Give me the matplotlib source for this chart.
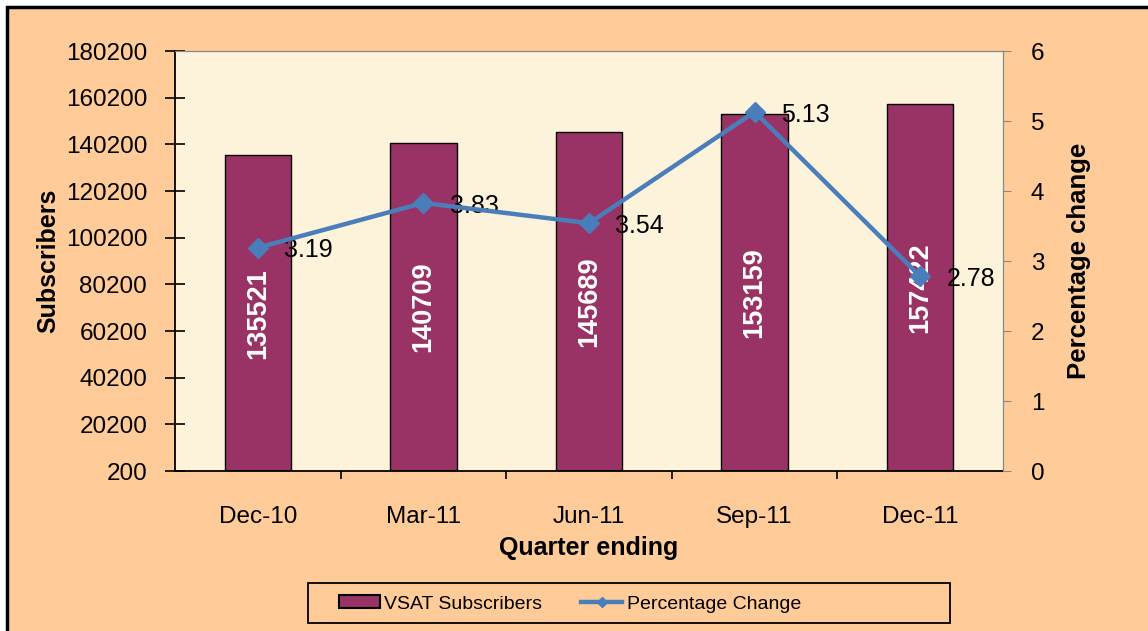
import numpy as np
import matplotlib
matplotlib.use('Agg')
import matplotlib.pyplot as plt
from matplotlib.patches import Rectangle
from matplotlib.lines import Line2D

plt.rcParams['font.family'] = ['Liberation Sans', 'DejaVu Sans']

quarters = ['Dec-10', 'Mar-11', 'Jun-11', 'Sep-11', 'Dec-11']
subscribers = [135521, 140709, 145689, 153159, 157422]
pct_change = [3.19, 3.83, 3.54, 5.13, 2.78]

bar_color = '#993366'
line_color = '#4A7EBB'
bg_color = '#FFCC99'

fig = plt.figure(figsize=(11.48, 6.31), dpi=100, facecolor='white')

# outer chart frame
fig.patches.append(Rectangle((7 / 1148, -0.1), 1.2, 1 - 7 / 631 + 0.1,
                             transform=fig.transFigure, facecolor=bg_color,
                             edgecolor='black', lw=2.5, zorder=-10))

ax = fig.add_axes([175 / 1148, 1 - 471 / 631, 828 / 1148, 420 / 631])
ax.set_facecolor('#FDF2DA')

x = np.arange(len(quarters))
ax.bar(x, subscribers, width=0.4, color=bar_color, edgecolor='black', lw=1, zorder=2)

for xi, v in zip(x, subscribers):
    ax.text(xi, 200 + (v - 200) / 2, str(v), rotation=90, ha='center', va='center',
            color='white', fontsize=19.5, fontweight='bold', zorder=3)

ax.set_xlim(-0.5, 4.5)
ax.set_ylim(200, 180200)
ax.set_yticks(np.arange(200, 180201, 20000))
ax.set_xticks(x)
ax.set_xticklabels(quarters)
ax.set_xticks(np.arange(0.5, 4.5, 1), minor=True)
ax.tick_params(axis='x', which='major', length=0, pad=25, labelsize=17.5)
ax.tick_params(axis='x', which='minor', length=6, width=1.2, direction='out')
ax.tick_params(axis='y', direction='inout', length=14, width=1.2, pad=13, labelsize=17.5)

for s in ['left', 'bottom']:
    ax.spines[s].set_color('black')
    ax.spines[s].set_linewidth(1.3)
ax.spines['top'].set_color('#888888')
ax.spines['right'].set_color('#888888')

ax.set_ylabel('Subscribers', fontsize=18, fontweight='bold', labelpad=4)
ax.set_xlabel('Quarter ending', fontsize=18, fontweight='bold', labelpad=6)

ax2 = ax.twinx()
ax2.plot(x, pct_change, color=line_color, lw=3.2, marker='D', markersize=10, zorder=5)
for xi, v in zip(x, pct_change):
    ax2.annotate(f'{v:.2f}', (xi, v), xytext=(19, -2), textcoords='offset points',
                 ha='left', va='center', fontsize=18)
ax2.set_ylim(0, 6)
ax2.set_yticks(range(0, 7))
ax2.tick_params(axis='y', direction='out', length=6, color='#888888', pad=14, labelsize=17.5)
ax2.spines['right'].set_color('#888888')
ax2.spines['top'].set_color('#888888')
ax2.spines['left'].set_visible(False)
ax2.spines['bottom'].set_visible(False)
ax2.set_ylabel('Percentage change', fontsize=18.5, fontweight='bold', labelpad=16)

# legend box
fig.patches.append(Rectangle((308 / 1148, 1 - 623 / 631), 642 / 1148, 40 / 631,
                             transform=fig.transFigure, facecolor=bg_color,
                             edgecolor='black', lw=1.3, zorder=-5))
handles = [Rectangle((0, 0), 1, 1, facecolor=bar_color, edgecolor='black', lw=1.5),
           Line2D([], [], color=line_color, lw=3.2, marker='D', markersize=5)]
fig.legend(handles, ['VSAT Subscribers', 'Percentage Change'], loc='center',
           bbox_to_anchor=(570 / 1148, 1 - 604 / 631), ncol=2, frameon=False,
           fontsize=14, handlelength=2.1, handleheight=0.6, handletextpad=0.25,
           columnspacing=2.0)

fig.savefig('out.png', dpi=100, facecolor=fig.get_facecolor())
